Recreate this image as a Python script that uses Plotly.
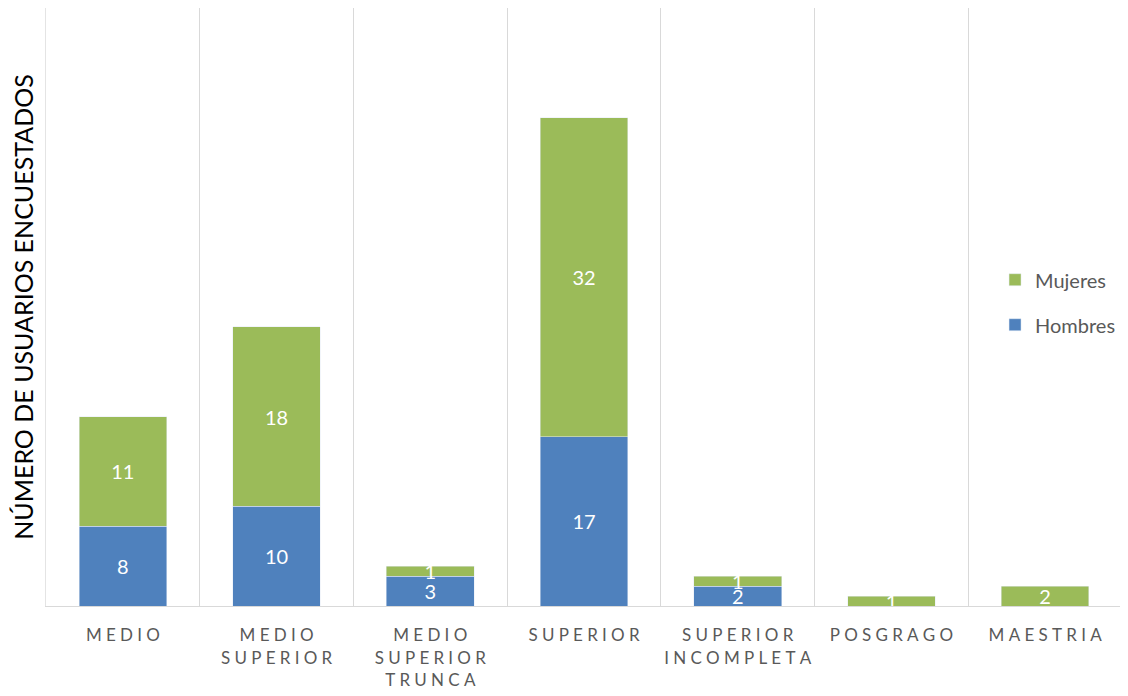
import plotly.graph_objects as go

categories = ["MEDIO", "MEDIO\nSUPERIOR", "MEDIO\nSUPERIOR\nTRUNCA", "SUPERIOR",
              "SUPERIOR\nINCOMPLETA", "POSGRAGO", "MAESTRIA"]
hombres = [8, 10, 3, 17, 2, 0, 0]
mujeres = [11, 18, 1, 32, 1, 1, 2]

def spaced(label):
    return "<br>".join("\u2005".join(line) for line in label.split("\n"))

ticks = [spaced(c) for c in categories]

common = dict(textposition="inside", insidetextanchor="middle", constraintext="none",
              textangle=0, cliponaxis=False,
              textfont=dict(color="white", size=20, family="Lato"), hoverinfo="skip")

fig = go.Figure()
fig.add_trace(go.Bar(x=ticks, y=hombres, name="Hombres", marker_color="#4F81BD",
                     text=[str(v) for v in hombres], legendgroup="h", legendrank=2,
                     **common))
fig.add_trace(go.Bar(x=ticks, y=mujeres, name="Mujeres", marker_color="#9BBB59",
                     text=[str(v) for v in mujeres], legendgroup="m", legendrank=1,
                     **common))

fig.update_layout(
    width=1128, height=696,
    barmode="stack", bargap=0.43,
    plot_bgcolor="white", paper_bgcolor="white",
    margin=dict(l=38, r=14, t=0, b=98),
    font=dict(family="Lato", color="#595959"),
    legend=dict(x=0.882, y=0.508, xanchor="left", yanchor="middle",
                traceorder="grouped", tracegroupgap=16,
                font=dict(size=20, color="#595959"), bgcolor="rgba(0,0,0,0)"),
    xaxis=dict(tickson="boundaries", showgrid=True, gridcolor="#d9d9d9", gridwidth=1,
               ticks="", ticklabelstandoff=14,
               showline=True, linecolor="#d9d9d9", linewidth=1,
               tickfont=dict(size=17, color="#595959"), tickangle=0),
    yaxis=dict(range=[0, 60], showgrid=False, showticklabels=False, zeroline=False,
               ticks="", automargin=False, showline=True, mirror=True,
               linecolor="#e4e4e4", linewidth=1,
               title=dict(text="NÚMERO DE USUARIOS ENCUESTADOS", standoff=8,
                          font=dict(size=25, color="#000000"))),
)

fig.write_html("out.html")
